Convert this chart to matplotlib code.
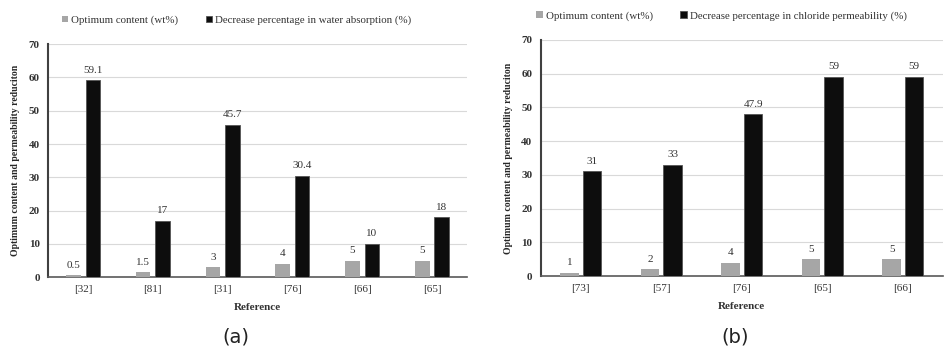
import matplotlib.pyplot as plt
import numpy as np

plt.rcParams['font.family'] = ['Liberation Serif', 'DejaVu Serif']

refs_a = ['[32]', '[81]', '[31]', '[76]', '[66]', '[65]']
optimum_a = [0.5, 1.5, 3, 4, 5, 5]
water_abs = [59.1, 17, 45.7, 30.4, 10, 18]

refs_b = ['[73]', '[57]', '[76]', '[65]', '[66]']
optimum_b = [1, 2, 4, 5, 5]
chloride = [31, 33, 47.9, 59, 59]

GRAY = '#a6a6a6'
BLACK = '#0d0d0d'
TXT = '#333333'

fig = plt.figure(figsize=(9.45, 3.59), dpi=100)
ax1 = fig.add_axes([0.051, 0.228, 0.443, 0.649])
ax2 = fig.add_axes([0.572, 0.231, 0.426, 0.658])


def draw(ax, refs, opt, dec, dec_label, w):
    x = np.arange(len(refs))
    b1 = ax.bar(x - 0.14, opt, w, color=GRAY, label='Optimum content (wt%)', zorder=3)
    b2 = ax.bar(x + 0.14, dec, w, color=BLACK, edgecolor='#555555', linewidth=0.6,
                label=dec_label, zorder=3)
    ax.bar_label(b1, padding=4, fontsize=8, color=TXT)
    ax.bar_label(b2, padding=4, fontsize=8, color=TXT)
    ax.set_xticks(x, refs)
    ax.set_xlim(-0.5, len(refs) - 0.5)
    ax.set_ylim(0, 70)
    ax.set_yticks(range(0, 71, 10))
    ax.yaxis.grid(True, color='#d9d9d9', linewidth=0.8, zorder=0)
    ax.set_axisbelow(True)
    for s in ['top', 'right']:
        ax.spines[s].set_visible(False)
    ax.spines['left'].set_color('#404040')
    ax.spines['left'].set_linewidth(1.5)
    ax.spines['bottom'].set_color('#595959')
    ax.spines['bottom'].set_linewidth(1.2)
    ax.tick_params(length=0, labelsize=8, colors=TXT, pad=6)
    for t in ax.get_yticklabels():
        t.set_fontweight('bold')
    ax.set_xlabel('Reference', fontsize=8, fontweight='bold', color=TXT, labelpad=6)
    ax.set_ylabel('Optimum content and permeability reduciton', fontsize=7,
                  fontweight='bold', color='#262626', labelpad=6)
    ax.legend(loc='lower center', bbox_to_anchor=(0.45, 1.04), ncol=2, frameon=False,
              fontsize=7.8, handlelength=0.6, handleheight=0.6, handletextpad=0.3,
              columnspacing=2.5, labelcolor=TXT)


draw(ax1, refs_a, optimum_a, water_abs, 'Decrease percentage in water absorption (%)', 0.21)
draw(ax2, refs_b, optimum_b, chloride, 'Decrease percentage in chloride permeability (%)', 0.23)

fig.text(0.25, 0.045, '(a)', fontsize=14, family='DejaVu Sans', ha='center', color='#222222')
fig.text(0.778, 0.045, '(b)', fontsize=14, family='DejaVu Sans', ha='center', color='#222222')

fig.savefig('out.png', dpi=100)
